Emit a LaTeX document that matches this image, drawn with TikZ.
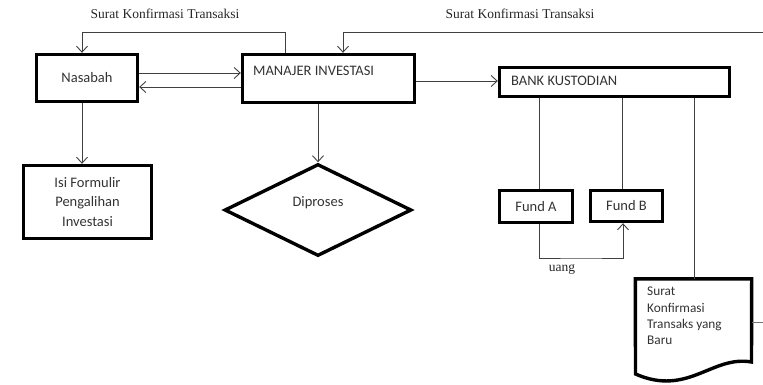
\documentclass[tikz,border=0pt]{standalone}
\usepackage{fontspec}
\setmainfont{Carlito}
\newfontfamily\timesfont{Liberation Serif}
\usetikzlibrary{arrows.meta,shapes.geometric,calc}
\tikzset{
  box/.style={draw=black, line width=3.4pt, inner sep=0pt, font=\fontsize{14.5}{19.5}\selectfont, text=black!80},
  conn/.style={draw=black!75, line width=0.9pt},
  arr/.style={conn, -{Straight Barb[length=6pt,width=11pt,line width=0.9pt]}},
  lbl/.style={font=\timesfont\fontsize{13.5}{16}\selectfont, text=black!85, inner sep=0pt}
}
\begin{document}
\begin{tikzpicture}[x=1pt,y=-1pt]
\useasboundingbox (0,0) rectangle (763,384);
% boxes
\node[box, minimum width=101, minimum height=47] (nas) at (87,78) {Nasabah};
\node[box, minimum width=172, minimum height=48] (mi) at (328.5,78.5) {};
\node[font=\fontsize{14.5}{17}\selectfont, text=black!80, anchor=west, inner sep=0pt] (mitext) at (253,71) {MANAJER INVESTASI};
\node[box, minimum width=230, minimum height=29] (bk) at (614.5,82) {};
\node[font=\fontsize{14.5}{17}\selectfont, text=black!80, anchor=west, inner sep=0pt] (bktext) at (511,81) {BANK KUSTODIAN};
\node[box, minimum width=128, minimum height=73, align=center] (isi) at (87.5,202) {Isi Formulir\\Pengalihan\\Investasi};
\node[box, diamond, minimum width=187, minimum height=92, aspect=2] (dip) at (318,210) {};
\node[font=\fontsize{14.5}{17}\selectfont, text=black!80, inner sep=0pt] (diptext) at (318,203) {Diproses};
\node[box, minimum width=73, minimum height=32] (fa) at (536,206.5) {Fund A};
\node[box, minimum width=72, minimum height=31] (fb) at (626.5,206) {Fund B};
% document
\node[minimum width=116, minimum height=97, inner sep=0pt] (doc) at (693.5,327.5) {};
\draw[line width=3.4pt, line join=miter] (doc.north west) -- (doc.north east) -- (751.5,362)
  .. controls (712,355) and (688,397) .. (635.5,374) -- cycle;
\node[anchor=north west, align=left, inner sep=0pt, font=\fontsize{13.3}{16.2}\selectfont, text=black!80] (doctext) at (647,287) {Surat\\Konfirmasi\\Transaks yang\\Baru};
% labels
\node[lbl] (l1) at (165,14) {Surat Konfirmasi Transaksi};
\node[lbl] (l2) at (520,14) {Surat Konfirmasi Transaksi};
\node[lbl] (l3) at (562,269) {uang};
% connectors
\coordinate (tr) at (763,32);
\coordinate (re) at (763,322);
\coordinate (u) at (581,258);
\draw[arr] (mi.north -| 285,0) |- (82,32) -- (nas.north -| 82,0);
\draw[arr] (tr) -| (mi.north -| 343,0);
\draw[arr] (nas.east |- 0,73) -- (mi.west |- 0,73);
\draw[arr] (mi.west |- 0,87) -- (nas.east |- 0,87);
\draw[arr] (mi.east |- 0,81) -- (bk.west |- 0,81);
\draw[arr] (nas.south -| 82,0) -- (isi.north -| 82,0);
\draw[arr] (mi.south -| 318,0) -- (dip.north);
\draw[conn] (bk.south -| 539,0) -- (fa.north -| 539,0);
\draw[conn] (bk.south -| 622,0) -- (fb.north -| 622,0);
\draw[conn] (bk.south -| 694,0) -- (doc.north -| 694,0);
\draw[arr] (fa.south -| 539,0) |- (u) -| (fb.south -| 623,0);
\draw[conn, draw=black!55] (doc.east |- re) -- (re);
\end{tikzpicture}
\end{document}
